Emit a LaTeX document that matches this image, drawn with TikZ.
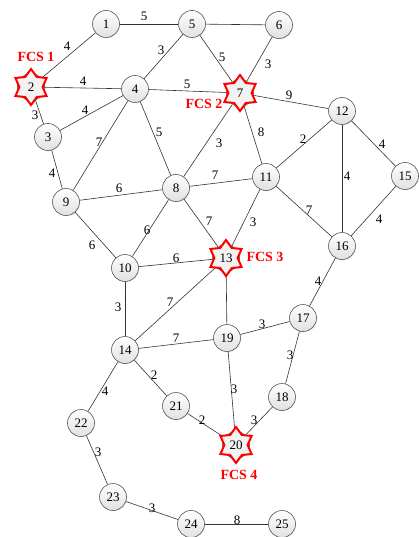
\documentclass[tikz,border=0pt]{standalone}
\usepackage{fontspec}
\setmainfont{Liberation Serif}
\usetikzlibrary{shapes.geometric,shadows}

\begin{document}
\begin{tikzpicture}[x=1pt,y=-1pt,
  vtx/.style={circle, draw=black!65, line width=0.6pt, minimum size=27pt,
    inner sep=0pt, top color=white, bottom color=black!12,
    drop shadow={opacity=0.15, shadow xshift=0.8pt, shadow yshift=-0.8pt},
    font=\fontsize{13}{13}\selectfont},
  fcs/.style={star, star points=6, star point ratio=1.55, minimum size=36pt,
    inner sep=0pt, draw=red, line width=2pt, fill=black!5,
    font=\fontsize{13}{13}\selectfont},
  link/.style={draw=black!80, line width=0.6pt},
  wt/.style={inner sep=0pt, font=\fontsize{13}{13}\selectfont},
  tag/.style={inner sep=0pt, text=red, font=\bfseries\fontsize{14}{14}\selectfont}]

\useasboundingbox (0,0) rectangle (419,537);

% vertices (star-marked ones get their number from the star drawn on top)
\foreach \i/\x/\y/\t in {
  1/106/24/1, 5/192/24/5, 6/279/25/6, 2/31/87/, 4/135/89/4, 7/240/93/,
  12/342/111/12, 3/48/137/3, 8/176/188/8, 11/266/177/11, 15/405/176/15,
  9/66/202/9, 16/342/246/16, 10/125/268/10, 13/226/258/, 17/303/318/17,
  14/125/350/14, 19/227/338/19, 18/282/397/18, 21/176/406/21,
  22/81/423/22, 20/236/445/, 23/113/497/23, 24/191/524/24, 25/282/524/25}
  \node[vtx] (n\i) at (\x,\y) {\t};

% weighted links
\foreach \a/\b/\w/\lx/\ly in {
  1/2/4/67/46, 1/5/5/144/16, 5/4/3/161/50, 5/7/5/222/57, 6/7/3/268/64,
  2/4/4/83/81, 4/7/5/187/84, 2/3/3/35/115, 3/4/4/85/110, 4/9/7/99/142,
  4/8/5/159/132, 7/8/3/219/143, 7/11/8/261/132, 7/12/9/289/95,
  12/11/2/303/139, 12/16/4/347/176, 12/15/4/382/144, 3/9/4/52/173,
  9/8/6/119/188, 8/11/7/215/175, 11/16/7/309/210, 15/16/4/379/219,
  9/10/6/92/245, 8/10/6/147/230, 8/13/7/209/221, 11/13/3/253/222,
  10/13/6/176/258, 16/17/4/318/281, 10/14/3/118/307, 13/14/7/170/302,
  14/19/7/176/338, 19/17/3/262/324, 17/18/3/290/355, 14/22/4/105/391,
  14/21/2/154/375, 21/20/2/202/420, 19/20/3/234/389, 18/20/3/254/420,
  22/23/3/98/452, 23/24/3/152/508, 24/25/8/237/520}
{
  \draw[link] (n\a) -- (n\b);
  \node[wt] (w\a-\b) at (\lx,\ly) {\w};
}
\draw[link] (n5) -- (n6);
\draw[link] (n13) -- (n19);

% fast charging stations
\node[fcs] (s2) at (n2) {2};
\node[fcs] (s7) at (n7) {7};
\node[fcs] (s13) at (n13) {13};
\node[fcs] (s20) at (n20) {20};

\node[tag] (f1) at (36,57) {FCS 1};
\node[tag] (f2) at (204,104) {FCS 2};
\node[tag] (f3) at (265,257) {FCS 3};
\node[tag] (f4) at (239,475) {FCS 4};
\end{tikzpicture}
\end{document}
